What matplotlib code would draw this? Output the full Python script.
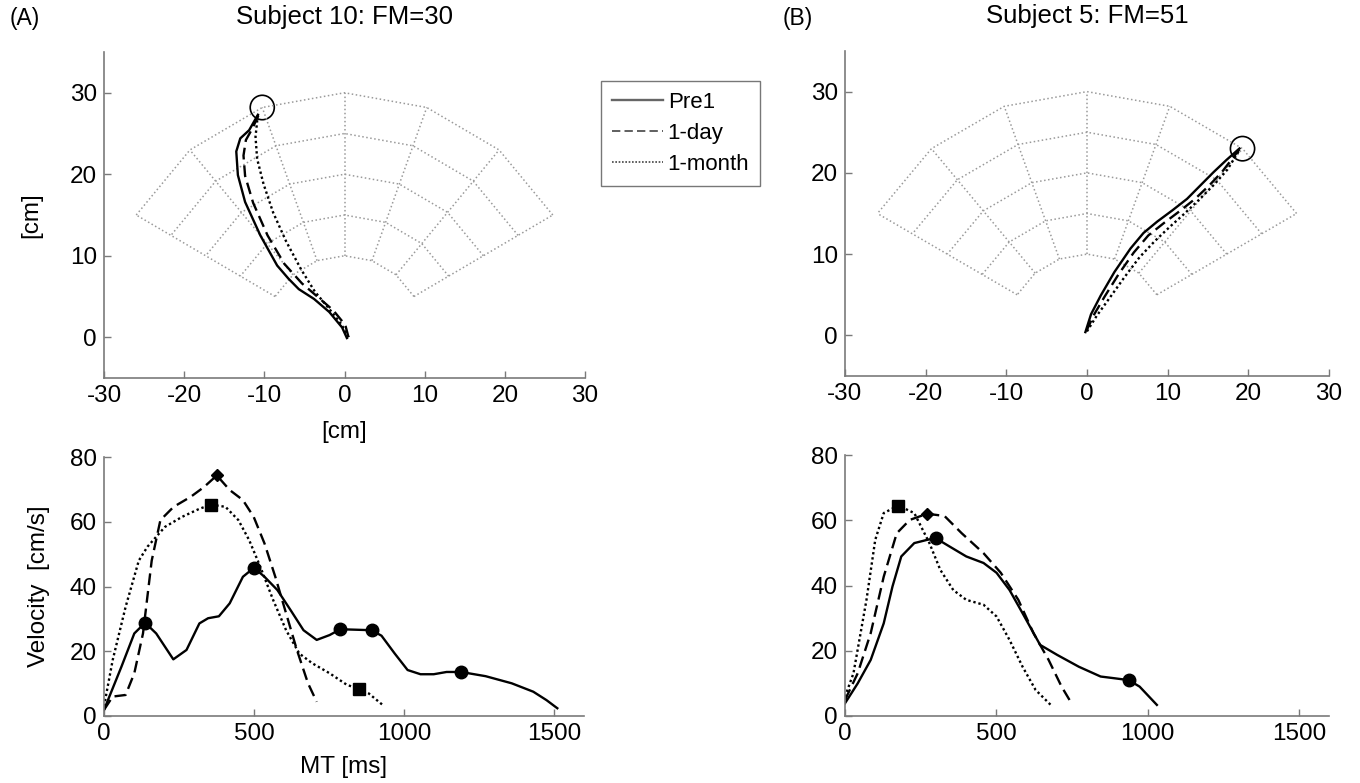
import numpy as np
import matplotlib
matplotlib.use("Agg")
import matplotlib.pyplot as plt

plt.rcParams['font.family'] = ['Liberation Sans', 'DejaVu Sans']
plt.rcParams['axes.unicode_minus'] = False

# workspace grid (polar, straight segments between nodes)
grid_radii = [10, 15, 20, 25, 30]
grid_angles = [30, 50, 70, 90, 110, 130, 150]

# subject 10 (A) hand paths [cm]
a_target = (-10.26, 28.19)
a_pre_x = [0.3, -0.3, -1.9, -3.8, -5.7, -7.0, -8.4, -10.5, -12.4, -13.3, -13.5, -13.0, -11.9, -10.8]
a_pre_y = [-0.1, 1.2, 3.1, 4.7, 5.9, 7.2, 8.8, 12.5, 16.6, 19.9, 22.8, 24.4, 25.4, 27.3]
a_day_x = [0.5, 0.1, -1.4, -3.4, -5.3, -7.5, -9.6, -11.4, -12.4, -12.6, -12.3, -11.5, -10.7]
a_day_y = [0.0, 1.5, 3.3, 5.0, 6.6, 9.0, 12.5, 16.5, 19.8, 22.3, 24.2, 25.6, 27.3]
a_mon_x = [0.5, -0.4, -2.0, -3.7, -5.4, -7.3, -8.9, -10.1, -10.9, -11.1, -10.8]
a_mon_y = [0.0, 1.6, 3.6, 5.6, 8.3, 11.8, 15.3, 18.8, 21.9, 24.6, 27.4]

# subject 5 (B) hand paths [cm]
b_target = (19.28, 22.98)
b_pre_x = [-0.2, 0.5, 1.7, 3.4, 5.4, 7.0, 8.7, 10.6, 12.4, 14.0, 15.7, 17.3, 18.9]
b_pre_y = [0.4, 2.6, 4.9, 7.8, 10.7, 12.6, 14.0, 15.4, 16.8, 18.4, 20.1, 21.6, 23.0]
b_day_x = [-0.1, 0.9, 2.2, 3.9, 5.8, 7.6, 9.5, 11.5, 13.4, 15.2, 16.8, 18.9]
b_day_y = [0.5, 2.6, 4.8, 7.5, 10.2, 12.3, 13.8, 15.3, 16.8, 18.5, 20.2, 22.9]
b_mon_x = [0.0, 1.2, 2.8, 4.6, 6.5, 8.4, 10.2, 12.1, 14.0, 15.8, 17.4, 18.9]
b_mon_y = [0.5, 2.4, 4.6, 7.1, 9.6, 11.6, 13.3, 15.0, 16.8, 18.6, 20.4, 22.8]

# velocity profiles, subject 10 (A)
a_vpre_t = [0, 58, 101, 137, 174, 231, 275, 318, 347, 383, 419, 463, 500, 535, 578, 622, 665, 709, 752, 788,
            892, 925, 969, 1012, 1055, 1099, 1142, 1190, 1272, 1359, 1431, 1475, 1511]
a_vpre_v = [1.9, 15.2, 25.5, 28.8, 25.5, 17.5, 20.4, 28.6, 30.2, 30.8, 34.8, 43.0, 45.8, 43.0, 38.9, 32.7, 26.5,
            23.5, 25.0, 26.8, 26.5, 24.8, 19.3, 14.2, 12.9, 12.9, 13.6, 13.6, 12.3, 10.1, 7.5, 4.9, 2.4]
a_vday_t = [0, 29, 72, 101, 130, 159, 188, 232, 289, 333, 376, 419, 463, 499, 535, 571, 607, 643, 680, 709]
a_vday_v = [1.9, 6.0, 6.5, 13.2, 25.5, 48.0, 60.5, 64.6, 67.7, 70.7, 74.3, 69.8, 66.7, 61.5, 53.3, 43.0, 31.7,
            20.4, 10.1, 4.4]
a_vmon_t = [0, 29, 72, 116, 145, 203, 260, 318, 357, 405, 448, 484, 521, 564, 607, 651, 694, 752, 810, 850, 882, 933]
a_vmon_v = [3.0, 17.3, 33.7, 48.0, 52.3, 58.4, 61.5, 64.0, 65.3, 64.6, 60.5, 54.3, 46.1, 35.8, 26.5, 19.3, 16.3,
            13.2, 9.6, 8.4, 7.0, 3.1]
a_pre_pk_t = [137, 500, 788, 892, 1190]
a_pre_pk_v = [28.8, 45.8, 26.8, 26.5, 13.6]
a_day_pk_t = [376]
a_day_pk_v = [74.3]
a_mon_pk_t = [357, 850]
a_mon_pk_v = [65.3, 8.4]

# velocity profiles, subject 5 (B)
b_vpre_t = [0, 42, 85, 128, 157, 186, 229, 272, 300, 343, 401, 458, 501, 544, 587, 645, 702, 773, 845, 888, 938,
            974, 1031]
b_vpre_v = [3.9, 10.0, 17.2, 28.4, 39.7, 48.9, 53.0, 54.0, 54.5, 52.1, 48.9, 46.9, 43.9, 38.6, 31.5, 21.8, 18.7,
            15.1, 12.1, 11.6, 11.0, 9.0, 3.4]
b_vday_t = [0, 42, 85, 128, 171, 214, 272, 329, 386, 458, 515, 573, 623, 673, 716, 752]
b_vday_v = [4.9, 13.1, 25.4, 42.7, 56.0, 60.1, 62.0, 61.3, 56.0, 49.9, 43.9, 35.6, 25.4, 17.2, 9.0, 3.4]
b_vmon_t = [0, 28, 71, 100, 128, 176, 229, 279, 315, 358, 401, 458, 501, 544, 587, 630, 680]
b_vmon_v = [5.9, 13.1, 35.6, 54.0, 62.2, 64.5, 62.2, 53.0, 44.8, 38.6, 35.6, 34.1, 30.5, 23.3, 15.1, 8.0, 3.4]
b_pre_pk_t = [300, 938]
b_pre_pk_v = [54.5, 11.0]
b_day_pk_t = [272]
b_day_pk_v = [62.0]
b_mon_pk_t = [176]
b_mon_pk_v = [64.5]

W, H = 1360, 783
fig = plt.figure(figsize=(13.6, 7.83), dpi=100)

def px_axes(x0, x1, y0, y1):
    return fig.add_axes([x0 / W, 1 - y1 / H, (x1 - x0) / W, (y1 - y0) / H])

ax_a = px_axes(104, 585, 52, 378)
ax_b = px_axes(845, 1329, 51, 376)
ax_c = px_axes(104, 584, 457, 716)
ax_d = px_axes(845, 1329, 455, 716)

spine_col = '#7a7a7a'
fs = 17.5

def style(ax):
    for s in ['top', 'right']:
        ax.spines[s].set_visible(False)
    for s in ['left', 'bottom']:
        ax.spines[s].set_color(spine_col)
        ax.spines[s].set_linewidth(1.2)
    ax.tick_params(direction='in', length=5, width=1, color=spine_col, labelsize=fs, pad=5)

def draw_grid(ax):
    th = np.radians(grid_angles)
    for r in grid_radii:
        ax.plot(r * np.cos(th), r * np.sin(th), ls=':', color='#9a9a9a', lw=1.1)
    for t in th:
        rr = np.array([grid_radii[0], grid_radii[-1]])
        ax.plot(rr * np.cos(t), rr * np.sin(t), ls=':', color='#9a9a9a', lw=1.1)

lw = 1.7
for ax, tgt, paths in [
    (ax_a, a_target, [(a_pre_x, a_pre_y), (a_day_x, a_day_y), (a_mon_x, a_mon_y)]),
    (ax_b, b_target, [(b_pre_x, b_pre_y), (b_day_x, b_day_y), (b_mon_x, b_mon_y)]),
]:
    style(ax)
    draw_grid(ax)
    ax.plot(*paths[0], color='k', lw=lw, ls='-')
    ax.plot(*paths[1], color='k', lw=lw, ls=(0, (5, 2.5)))
    ax.plot(*paths[2], color='k', lw=lw, ls=(0, (1, 1.2)))
    ax.add_patch(plt.Circle(tgt, 1.5, fill=False, color='k', lw=1.2))
    ax.set_xlim(-30, 30)
    ax.set_ylim(-5, 35)
    ax.set_xticks([-30, -20, -10, 0, 10, 20, 30])
    ax.set_yticks([0, 10, 20, 30])

ax_a.set_xlabel('[cm]', fontsize=fs, labelpad=10)
ax_a.set_ylabel('[cm]', fontsize=fs, labelpad=20)
ax_a.set_title('Subject 10: FM=30', fontsize=fs + 1, pad=20)
ax_b.set_title('Subject 5: FM=51', fontsize=fs + 1, pad=20)

for ax, tr in [
    (ax_c, [(a_vpre_t, a_vpre_v), (a_vday_t, a_vday_v), (a_vmon_t, a_vmon_v),
            (a_pre_pk_t, a_pre_pk_v), (a_day_pk_t, a_day_pk_v), (a_mon_pk_t, a_mon_pk_v)]),
    (ax_d, [(b_vpre_t, b_vpre_v), (b_vday_t, b_vday_v), (b_vmon_t, b_vmon_v),
            (b_pre_pk_t, b_pre_pk_v), (b_day_pk_t, b_day_pk_v), (b_mon_pk_t, b_mon_pk_v)]),
]:
    style(ax)
    ax.plot(*tr[0], color='k', lw=lw, ls='-')
    ax.plot(*tr[1], color='k', lw=lw, ls=(0, (5, 2.5)))
    ax.plot(*tr[2], color='k', lw=lw, ls=(0, (1, 1.2)))
    ax.plot(*tr[3], 'o', color='k', ms=9)
    ax.plot(*tr[4], 'D', color='k', ms=6)
    ax.plot(*tr[5], 's', color='k', ms=8)
    ax.set_xlim(0, 1600)
    ax.set_ylim(0, 80)
    ax.set_xticks([0, 500, 1000, 1500])
    ax.set_yticks([0, 20, 40, 60, 80])

ax_c.set_xlabel('MT [ms]', fontsize=fs, labelpad=8)
ax_c.set_ylabel('Velocity  [cm/s]', fontsize=fs, labelpad=14)

fig.text(10 / W, 1 - 18 / H, '(A)', fontsize=fs - 1, va='center', ha='left')
fig.text(783 / W, 1 - 18 / H, '(B)', fontsize=fs - 1, va='center', ha='left')

# legend
h1, = ax_a.plot([], [], color='#666666', lw=lw, ls='-')
h2, = ax_a.plot([], [], color='#444444', lw=1.2, ls=(0, (5, 2.5)))
h3, = ax_a.plot([], [], color='#444444', lw=1.2, ls=(0, (1, 1)))
leg = fig.legend([h1, h2, h3], ['Pre1', '1-day', '1-month'], loc='upper left',
                 bbox_to_anchor=(601 / W, 1 - 81 / H), borderaxespad=0, fontsize=fs - 1.5, frameon=True,
                 fancybox=False, handlelength=2.3, handletextpad=0.2, borderpad=0.5, labelspacing=0.45)
leg.get_frame().set_edgecolor('#555555')
leg.get_frame().set_linewidth(1.0)

fig.savefig('out.png', dpi=100)
